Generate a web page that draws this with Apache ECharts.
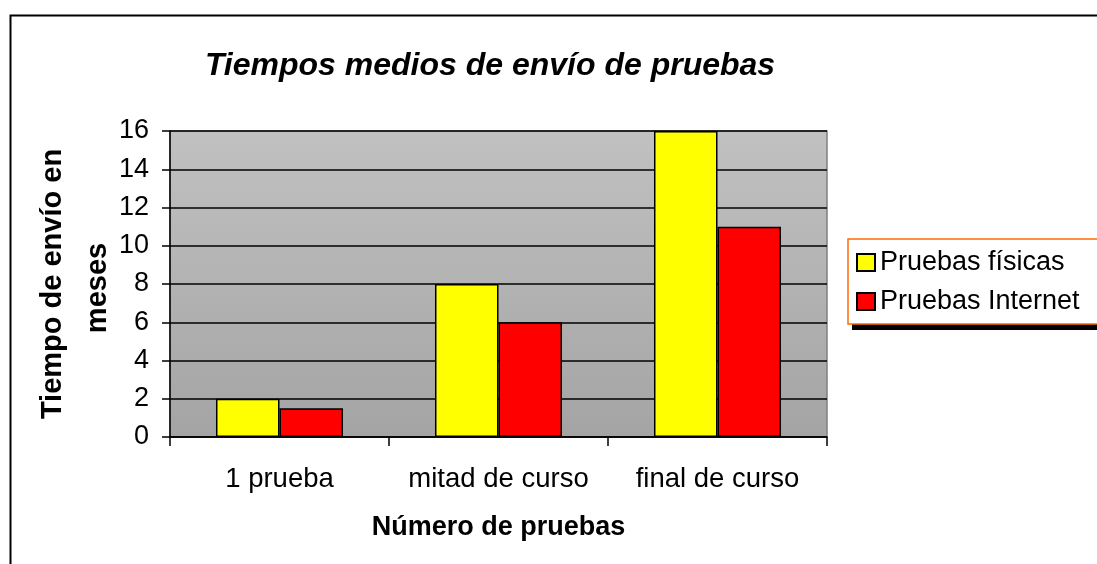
<!DOCTYPE html>
<html>
<head>
<meta charset="utf-8">
<script src="https://cdn.jsdelivr.net/npm/echarts@6/dist/echarts.min.js"></script>
<style>html,body{margin:0;padding:0;background:#fff;}#c{width:1097px;height:564px;}</style>
</head>
<body>
<div id="c"></div>
<script>
const categories = ['1 prueba', 'mitad de curso', 'final de curso'];
const seriesNames = ['Pruebas físicas', 'Pruebas Internet'];
const fisicas = [2, 8, 16];
const internet = [1.5, 6, 11];
const yTicks = [0, 2, 4, 6, 8, 10, 12, 14, 16];
const titleText = 'Tiempos medios de envío de pruebas';
const xName = 'Número de pruebas';
const yNameLines = ['Tiempo de envío en', 'meses'];

const FONT = '"Liberation Sans", Arial, sans-serif';
const chart = echarts.init(document.getElementById('c'));
chart.setOption({
  animation: false,
  textStyle: { fontFamily: FONT },
  title: {
    text: titleText, left: 490, textAlign: 'center', top: 50, padding: 0,
    textStyle: { fontFamily: FONT, fontSize: 32, fontWeight: 'bold', fontStyle: 'italic', color: '#000' }
  },
  legend: {
    orient: 'vertical', left: 848, top: 239,
    padding: [10, 10, 9, 8], itemGap: 12, itemWidth: 18, itemHeight: 17,
    icon: 'rect',
    textStyle: { fontFamily: FONT, fontSize: 27, color: '#000', lineHeight: 27 },
    data: seriesNames
  },
  grid: {
    left: 170, right: 270, top: 131, bottom: 127, show: true,
    borderColor: '#808080', borderWidth: 1.5,
    backgroundColor: new echarts.graphic.LinearGradient(0, 0, 0, 1, [
      { offset: 0, color: '#c1c1c1' }, { offset: 1, color: '#a4a4a4' }
    ])
  },
  xAxis: {
    type: 'category', data: categories,
    name: xName, nameLocation: 'middle', nameGap: 77,
    nameTextStyle: { fontFamily: FONT, fontSize: 27, fontWeight: 'bold', color: '#000' },
    axisLine: { lineStyle: { color: '#000', width: 1.5 } },
    axisTick: { show: true, length: 9, inside: false, lineStyle: { color: '#000', width: 1.5 } },
    axisLabel: { fontFamily: FONT, fontSize: 27.5, color: '#000', margin: 28, interval: 0, hideOverlap: false },
    splitLine: { show: false }
  },
  yAxis: {
    type: 'value', min: 0, max: 16, interval: 2,
    axisLine: { show: true, lineStyle: { color: '#000', width: 1.5 } },
    axisTick: { show: true, length: 8, lineStyle: { color: '#000', width: 1.5 } },
    axisLabel: { fontFamily: FONT, fontSize: 27, color: '#000', margin: 21,
      formatter: v => (yTicks.indexOf(v) >= 0 ? String(v) : '') },
    splitLine: { show: true, lineStyle: { color: '#000', width: 1.5 } }
  },
  series: [
    { name: seriesNames[0], type: 'bar', data: fisicas, barGap: '0%', barCategoryGap: '42%',
      itemStyle: { color: '#ffff00', borderColor: '#000', borderWidth: 1.5 } },
    { name: seriesNames[1], type: 'bar', data: internet, barGap: '0%', barCategoryGap: '42%',
      itemStyle: { color: '#ff0000', borderColor: '#000', borderWidth: 1.5 } }
  ],
  graphic: [
    { type: 'rect', left: 8, top: 13, shape: { width: 1300, height: 700 }, silent: true, z: -10,
      style: { fill: 'none', stroke: '#000', lineWidth: 2 } },
    { type: 'rect', x: 852, y: 244, shape: { width: 400, height: 86 }, silent: true, z: 0,
      style: { fill: '#000' } },
    { type: 'rect', x: 848, y: 239, shape: { width: 400, height: 85 }, silent: true, z: 1,
      style: { fill: '#fff', stroke: '#ff6a00', lineWidth: 1.5 } },
    { type: 'text', x: 53, y: 284, rotation: Math.PI / 2,
      style: { text: yNameLines[0], font: 'bold 29px ' + FONT, fill: '#000', align: 'center', verticalAlign: 'middle' } },
    { type: 'text', x: 98, y: 288, rotation: Math.PI / 2,
      style: { text: yNameLines[1], font: 'bold 29px ' + FONT, fill: '#000', align: 'center', verticalAlign: 'middle' } }
  ]
});
</script>
</body>
</html>
